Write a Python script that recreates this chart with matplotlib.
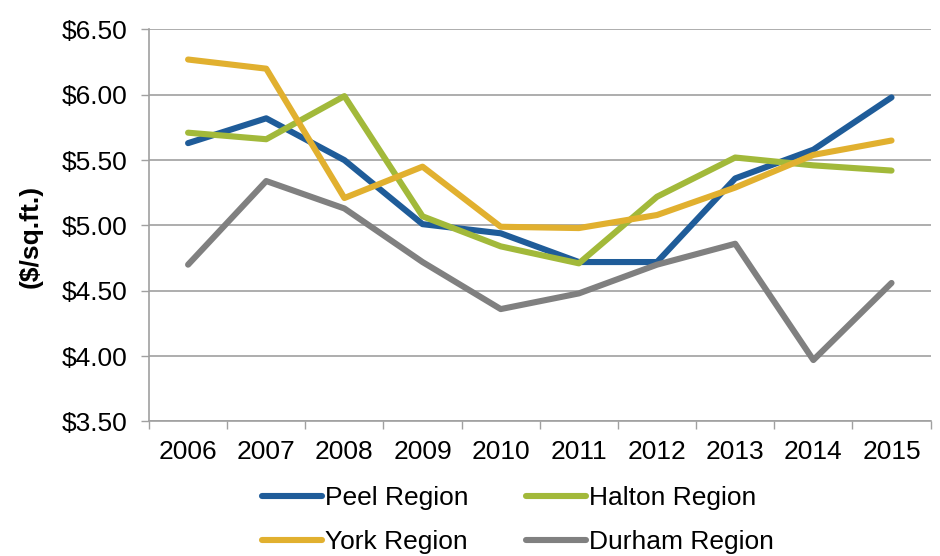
import matplotlib.pyplot as plt
import numpy as np

plt.rcParams['font.family'] = ['Liberation Sans', 'DejaVu Sans']

years = ['2006', '2007', '2008', '2009', '2010', '2011', '2012', '2013', '2014', '2015']
peel = [5.63, 5.82, 5.50, 5.01, 4.94, 4.72, 4.72, 5.36, 5.58, 5.98]
halton = [5.71, 5.66, 5.99, 5.07, 4.84, 4.71, 5.22, 5.52, 5.46, 5.42]
york = [6.27, 6.20, 5.21, 5.45, 4.99, 4.98, 5.08, 5.29, 5.54, 5.65]
durham = [4.70, 5.34, 5.13, 4.72, 4.36, 4.48, 4.70, 4.86, 3.97, 4.56]
yticks = [3.50, 4.00, 4.50, 5.00, 5.50, 6.00, 6.50]

fig = plt.figure(figsize=(9.4, 5.56), dpi=100)
ax = fig.add_axes([0.1585, 0.242, 0.8315, 0.705])

x = np.arange(len(years))
lw = 4.4
l_peel, = ax.plot(x, peel, color='#1f5c99', lw=lw, solid_capstyle='round', label='Peel Region', zorder=3)
l_halton, = ax.plot(x, halton, color='#a2b93a', lw=lw, solid_capstyle='round', label='Halton Region', zorder=3)
l_york, = ax.plot(x, york, color='#e1b02f', lw=lw, solid_capstyle='round', label='York Region', zorder=3)
l_durham, = ax.plot(x, durham, color='#808080', lw=lw, solid_capstyle='round', label='Durham Region', zorder=3)

ax.set_xlim(-0.5, len(years) - 0.5)
ax.set_ylim(3.5, 6.5)
ax.set_yticks(yticks)
ax.set_yticklabels([f'${v:.2f}' for v in yticks])
ax.set_xticks(x)
ax.set_xticklabels(years)
ax.set_xticks(np.arange(-0.5, len(years)), minor=True)
ax.tick_params(axis='x', which='major', length=0, pad=13, labelsize=19)
ax.tick_params(axis='x', which='minor', length=5.5, width=1, color='#a0a0a0')
ax.tick_params(axis='y', length=5.5, width=1, color='#a0a0a0', pad=10, labelsize=19)

ax.grid(axis='y', color='#a0a0a0', lw=1.2, zorder=0)
for s in ['top', 'right']:
    ax.spines[s].set_visible(False)
for s in ['left', 'bottom']:
    ax.spines[s].set_color('#a0a0a0')
    ax.spines[s].set_linewidth(1.2)

fig.text(31 / 940, 1 - 236 / 556, '($/sq.ft.)', rotation=90, fontsize=19,
         fontweight='bold', ha='center', va='center')

# matplotlib fills legend columns first, so order handles for row-wise layout
fig.legend([l_peel, l_york, l_halton, l_durham],
           ['Peel Region', 'York Region', 'Halton Region', 'Durham Region'],
           loc='center', bbox_to_anchor=(518 / 940, 1 - 520 / 556), ncol=2,
           frameon=False, fontsize=19, handlelength=2.25, handletextpad=0.12,
           columnspacing=2.2, labelspacing=0.75)

fig.savefig('out.png', dpi=100)
